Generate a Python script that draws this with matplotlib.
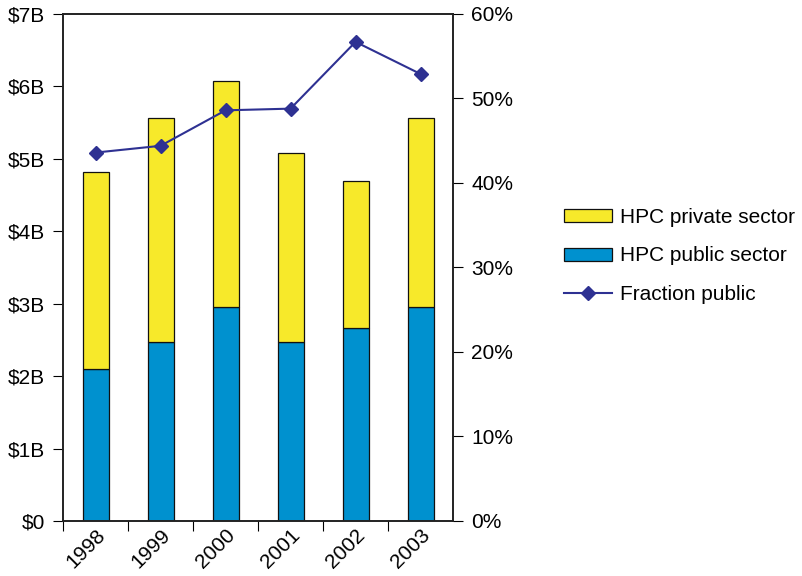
import numpy as np
import matplotlib; matplotlib.use("Agg")
import matplotlib.pyplot as plt
from matplotlib.ticker import FuncFormatter

plt.rcParams['font.family'] = ['Liberation Sans', 'DejaVu Sans']

years = ["1998", "1999", "2000", "2001", "2002", "2003"]
public = [2.10, 2.47, 2.95, 2.47, 2.67, 2.95]      # $B
total = [4.82, 5.57, 6.08, 5.08, 4.70, 5.57]       # $B
private = [t - p for t, p in zip(total, public)]
frac_public = [43.6, 44.4, 48.6, 48.8, 56.7, 52.9]  # %

YELLOW = '#f7e92a'; BLUE = '#0091cf'; NAVY = '#2e3192'
FS = 15

fig = plt.figure(figsize=(8.02, 5.76), dpi=100)
ax = fig.add_axes([0.0786, 0.0955, 0.4863, 0.8802])
x = np.arange(len(years))
b_pub = ax.bar(x, public, 0.4, color=BLUE, ec='#111', lw=0.9, label="HPC public sector")
b_pri = ax.bar(x, private, 0.4, bottom=public, color=YELLOW, ec='#111', lw=0.9, label="HPC private sector")
ax.set_xlim(-0.5, len(years) - 0.5)
ax.set_ylim(0, 7)
ax.set_yticks(range(8))
ax.yaxis.set_major_formatter(FuncFormatter(lambda v, _: "$0" if v == 0 else f"${int(v)}B"))
ax.set_xticks(x - 0.5, minor=False)
ax.set_xticklabels([])
ax.set_xticks(x, minor=True)
ax.set_xticklabels(years, minor=True, rotation=45, ha='right', va='top', rotation_mode='anchor')
ax.tick_params(axis='x', which='minor', length=0, pad=3, labelsize=FS)
ax.tick_params(axis='x', which='major', length=7, direction='out')
ax.tick_params(axis='y', length=7, labelsize=FS, pad=6)
for s in ax.spines.values():
    s.set_color('#222'); s.set_linewidth(1.2)

ax2 = ax.twinx()
ln, = ax2.plot(x, frac_public, color=NAVY, lw=1.5, marker='D', ms=7, mfc=NAVY, mec=NAVY,
               label="Fraction public")
ax2.set_ylim(0, 60)
ax2.set_yticks(range(0, 61, 10))
ax2.yaxis.set_major_formatter(FuncFormatter(lambda v, _: f"{int(v)}%"))
ax2.tick_params(axis='y', length=7, labelsize=FS, pad=6)
for s in ax2.spines.values():
    s.set_color('#222'); s.set_linewidth(1.2)

fig.legend([b_pri, b_pub, ln], ["HPC private sector", "HPC public sector", "Fraction public"],
           loc='upper left', bbox_to_anchor=(0.68, 0.672), frameon=False, fontsize=FS,
           handlelength=2.3, handleheight=0.6, labelspacing=0.95, handletextpad=0.4)

plt.savefig("out.png", dpi=100, facecolor='white')
